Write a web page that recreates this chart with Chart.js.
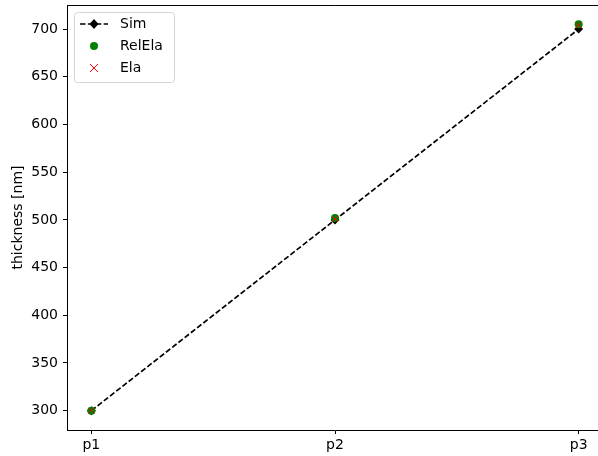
<!DOCTYPE html>
<html>
<head>
<meta charset="utf-8">
<script src="https://cdn.jsdelivr.net/npm/chart.js@4"></script>
<style>
  html, body { margin: 0; padding: 0; background: #fff; overflow: hidden; }
  #wrap { width: 608px; height: 456px; }
</style>
</head>
<body>
<div id="wrap"><canvas id="thk"></canvas></div>
<script>
var positions = ["p1", "p2", "p3"];
var sim = [300, 500, 700];
var relEla = [300, 502, 705];
var ela = [300, 501, 704];
var yTicks = [300, 350, 400, 450, 500, 550, 600, 650, 700];

var FONT = "'DejaVu Sans', sans-serif";

function pts(vals) {
  return vals.map(function (v, i) { return { x: i, y: v }; });
}

// top/right spines + matplotlib-ish legend in the upper left corner
var frame = {
  id: "frame",
  afterDraw: function (chart) {
    var ctx = chart.ctx, a = chart.chartArea;
    ctx.save();
    ctx.strokeStyle = "#000";
    ctx.lineWidth = 1;
    ctx.beginPath();
    ctx.moveTo(a.left, a.top + 0.5);
    ctx.lineTo(a.right - 0.5, a.top + 0.5);
    ctx.lineTo(a.right - 0.5, a.bottom);
    ctx.stroke();

    var x0 = a.left + 7, y0 = a.top + 7, w = 100, h = 70;
    ctx.beginPath();
    ctx.roundRect(x0 + 0.5, y0 + 0.5, w, h, 3);
    ctx.fillStyle = "rgba(255,255,255,0.8)";
    ctx.fill();
    ctx.strokeStyle = "#d5d5d5";
    ctx.stroke();

    ctx.font = "14px " + FONT;
    ctx.textBaseline = "middle";
    var rows = [y0 + 12, y0 + 34, y0 + 56];
    var mx = x0 + 20;

    // Sim: dashed line with diamond
    ctx.beginPath();
    ctx.strokeStyle = "#000";
    ctx.setLineDash([5.5, 2.4]);
    ctx.lineWidth = 1.7;
    ctx.moveTo(x0 + 6, rows[0]);
    ctx.lineTo(x0 + 34, rows[0]);
    ctx.stroke();
    ctx.setLineDash([]);
    ctx.beginPath();
    ctx.moveTo(mx, rows[0] - 5);
    ctx.lineTo(mx + 4.5, rows[0]);
    ctx.lineTo(mx, rows[0] + 5);
    ctx.lineTo(mx - 4.5, rows[0]);
    ctx.closePath();
    ctx.fillStyle = "#000";
    ctx.fill();

    // RelEla: green dot
    ctx.beginPath();
    ctx.arc(mx, rows[1], 4, 0, Math.PI * 2);
    ctx.fillStyle = "#008000";
    ctx.fill();

    // Ela: red x
    ctx.beginPath();
    ctx.strokeStyle = "#ff0000";
    ctx.lineWidth = 1;
    ctx.moveTo(mx - 4, rows[2] - 4);
    ctx.lineTo(mx + 4, rows[2] + 4);
    ctx.moveTo(mx + 4, rows[2] - 4);
    ctx.lineTo(mx - 4, rows[2] + 4);
    ctx.stroke();

    ctx.fillStyle = "#000";
    ctx.fillText("Sim", x0 + 46, rows[0]);
    ctx.fillText("RelEla", x0 + 46, rows[1]);
    ctx.fillText("Ela", x0 + 46, rows[2]);
    ctx.restore();
  }
};

new Chart(document.getElementById("thk"), {
  type: "scatter",
  data: {
    datasets: [
      {
        label: "Sim",
        data: pts(sim),
        showLine: true,
        borderColor: "#000",
        backgroundColor: "#000",
        borderWidth: 1.7,
        borderDash: [5.5, 2.4],
        pointStyle: "rectRot",
        pointRadius: 4.5,
        pointBorderWidth: 0,
        order: 3,
      },
      {
        label: "RelEla",
        data: pts(relEla),
        backgroundColor: "#008000",
        borderColor: "#008000",
        pointStyle: "circle",
        pointRadius: 4,
        pointBorderWidth: 0,
        order: 2,
      },
      {
        label: "Ela",
        data: pts(ela),
        borderColor: "#ff0000",
        backgroundColor: "#ff0000",
        pointStyle: "crossRot",
        pointRadius: 4,
        pointBorderWidth: 1,
        order: 1,
      },
    ],
  },
  options: {
    responsive: true,
    maintainAspectRatio: false,
    animation: false,
    layout: { padding: { top: 5, left: 0, right: 0, bottom: 0 } },
    plugins: { legend: { display: false }, tooltip: { enabled: false } },
    scales: {
      x: {
        type: "linear",
        min: -0.1,
        max: 2.1,
        afterBuildTicks: function (s) {
          s.ticks = positions.map(function (p, i) { return { value: i }; });
        },
        afterFit: function (s) {
          s.height = 26;
          s.paddingLeft = 0;
          s.paddingRight = 0;
        },
        grid: { drawOnChartArea: false, drawTicks: true, tickLength: 4, color: "#000" },
        border: { color: "#000" },
        ticks: {
          color: "#000",
          padding: 3,
          font: { family: FONT, size: 14 },
          callback: function (v) { return positions[v]; },
        },
      },
      y: {
        min: 279.75,
        max: 725.25,
        afterBuildTicks: function (s) {
          s.ticks = yTicks.map(function (v) { return { value: v }; });
        },
        afterFit: function (s) {
          s.width = 67;
          s.paddingTop = 0;
          s.paddingBottom = 0;
        },
        grid: { drawOnChartArea: false, drawTicks: true, tickLength: 4, color: "#000" },
        border: { color: "#000" },
        title: {
          display: true,
          text: "thickness [nm]",
          color: "#000",
          font: { family: FONT, size: 14 },
          padding: { top: 10, bottom: 0 },
        },
        ticks: {
          color: "#000",
          padding: 5,
          font: { family: FONT, size: 14 },
        },
      },
    },
  },
  plugins: [frame],
});
</script>
</body>
</html>
